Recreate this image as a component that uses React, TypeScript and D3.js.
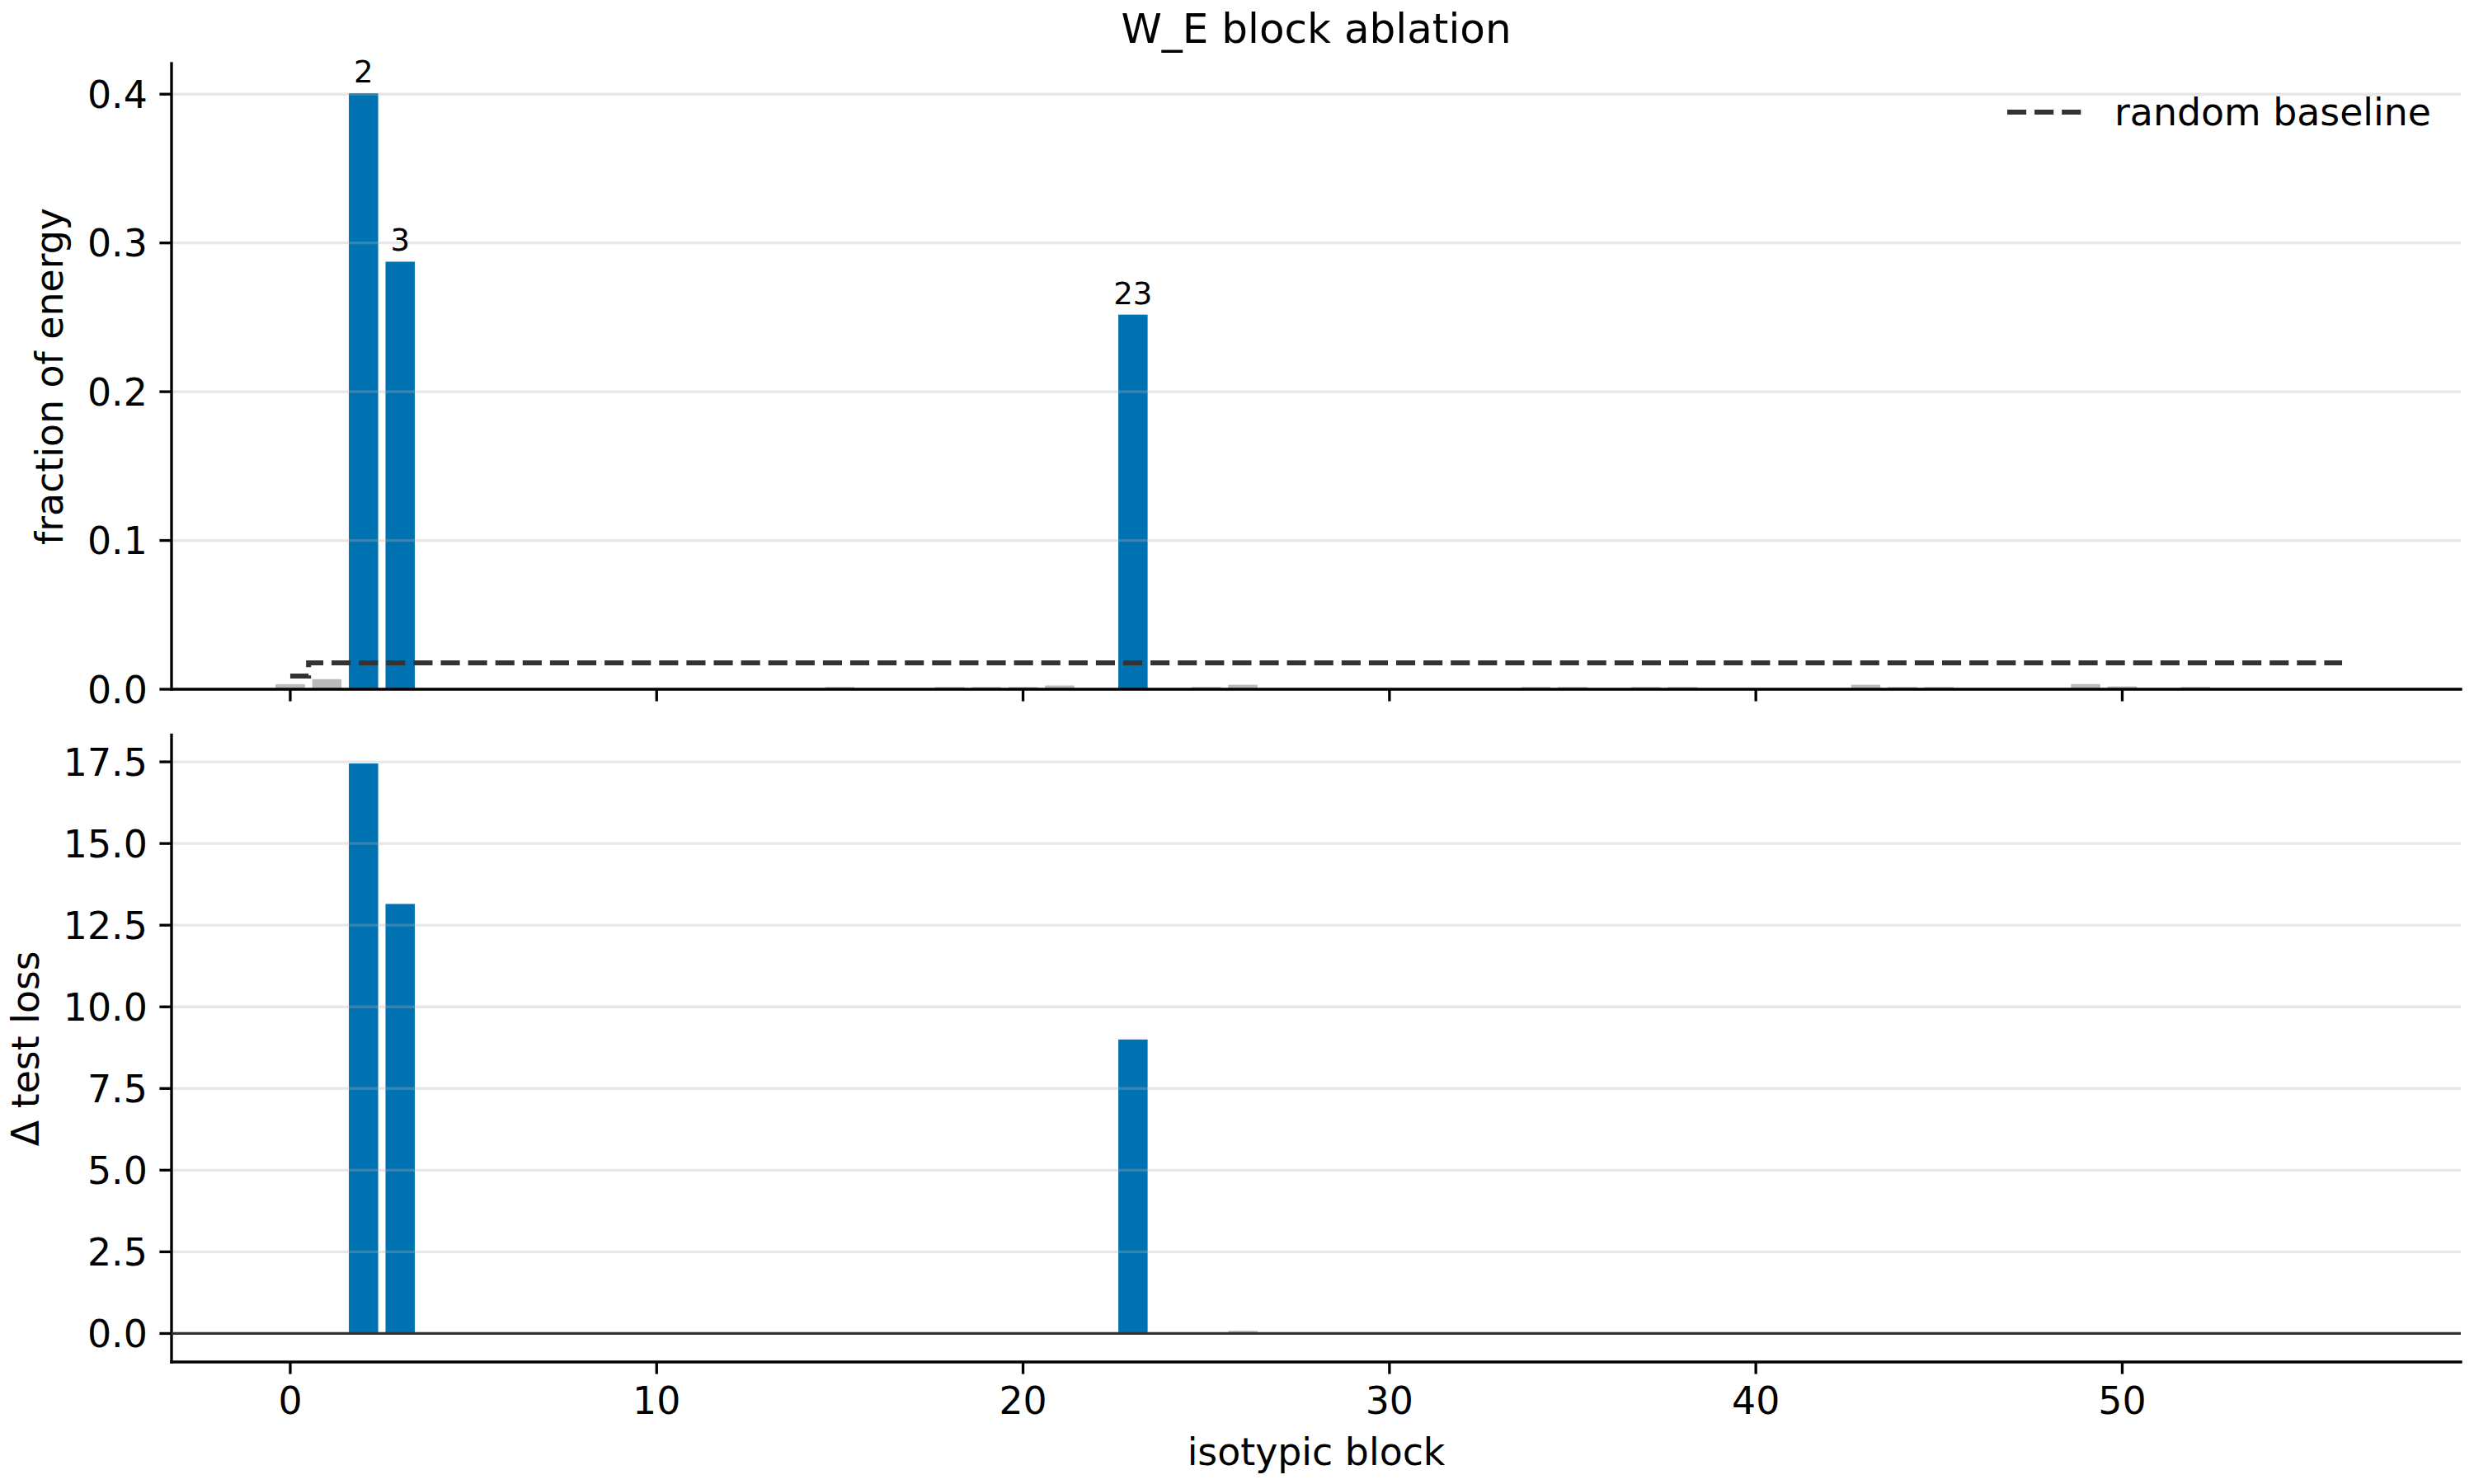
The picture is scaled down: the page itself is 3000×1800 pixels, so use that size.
import { useEffect, useRef } from 'react'
import * as d3 from 'd3'

// isotypic block index 0..56
const blocks = d3.range(57)

// fraction of W_E energy in each block
const energy = [
  0.0034, 0.0068, 0.4006, 0.2874, 0, 0, 0, 0, 0, 0,
  0, 0, 0, 0, 0, 0.0015, 0, 0, 0.0015, 0.0015,
  0.0015, 0.0025, 0, 0.2518, 0, 0.0015, 0.003, 0, 0, 0,
  0, 0, 0, 0, 0.0015, 0.0015, 0, 0.0015, 0.0015, 0,
  0, 0, 0, 0.003, 0.0015, 0.0015, 0, 0, 0, 0.0035,
  0.0019, 0, 0.0015, 0, 0, 0, 0,
]

// random baseline per block (dim / total)
const baseline = [
  0.0088, 0.0177, 0.0177, 0.0177, 0.0177, 0.0177, 0.0177, 0.0177, 0.0177, 0.0177,
  0.0177, 0.0177, 0.0177, 0.0177, 0.0177, 0.0177, 0.0177, 0.0177, 0.0177, 0.0177,
  0.0177, 0.0177, 0.0177, 0.0177, 0.0177, 0.0177, 0.0177, 0.0177, 0.0177, 0.0177,
  0.0177, 0.0177, 0.0177, 0.0177, 0.0177, 0.0177, 0.0177, 0.0177, 0.0177, 0.0177,
  0.0177, 0.0177, 0.0177, 0.0177, 0.0177, 0.0177, 0.0177, 0.0177, 0.0177, 0.0177,
  0.0177, 0.0177, 0.0177, 0.0177, 0.0177, 0.0177, 0.0177,
]

// change in test loss when the block is ablated
const lossDelta = [
  0, 0, 17.45, 13.15, 0, 0, 0, 0, 0, 0,
  0, 0, 0, 0, 0, 0, 0, 0, 0, 0,
  0, 0, 0, 9.0, 0, 0, 0.08, 0, 0, 0,
  0, 0, 0, 0, 0, 0, 0, 0, 0, 0,
  0, 0, 0, 0, 0, 0, 0, 0, 0, 0,
  0, 0, 0, 0, 0, 0, 0,
]

const topBlocks = [2, 3, 23]
const xTicks = [0, 10, 20, 30, 40, 50]
const energyTicks = [0, 0.1, 0.2, 0.3, 0.4]
const lossTicks = [0, 2.5, 5, 7.5, 10, 12.5, 15, 17.5]

const W = 3000
const H = 1800
const LEFT = 208
const RIGHT = 2984
const P1 = { top: 77, bottom: 836 }
const P2 = { top: 891.5, bottom: 1652 }
const FONT = 'DejaVu Sans, Verdana, sans-serif'
const FS = 45.8
const LW = 3.33
const TICK = 14.6
const BLUE = '#0072B2'
const GRAY = '#bbbbbb'

export default function App() {
  const svgRef = useRef<SVGSVGElement>(null)

  useEffect(() => {
    if (!svgRef.current) return
    const svg = d3.select(svgRef.current)
    svg.selectAll('*').remove()

    const x = d3.scaleLinear().domain([-3.24, 59.24]).range([LEFT, RIGHT])
    const bw = x(0.8) - x(0)

    const eMax = d3.max(energy)! * 1.05
    const yE = d3.scaleLinear().domain([0, eMax]).range([P1.bottom, P1.top])
    const lMax = d3.max(lossDelta)!
    const yL = d3.scaleLinear().domain([-0.05 * lMax, lMax * 1.05]).range([P2.bottom, P2.top])

    const colorOf = (i: number) => (topBlocks.includes(i) ? BLUE : GRAY)

    const panel = (
      values: number[],
      y: d3.ScaleLinear<number, number>,
      ticks: number[],
      p: { top: number; bottom: number },
      fmt: (d: number) => string,
    ) => {
      const g = svg.append('g')
      // bars
      g.selectAll('rect.bar')
        .data(blocks)
        .join('rect')
        .attr('class', 'bar')
        .attr('x', i => x(i - 0.4))
        .attr('width', bw)
        .attr('y', i => Math.min(y(values[i]), y(0)))
        .attr('height', i => Math.abs(y(values[i]) - y(0)))
        .attr('fill', i => colorOf(i))

      // grid (matplotlib draws it above patches)
      g.selectAll('line.grid')
        .data(ticks)
        .join('line')
        .attr('x1', LEFT).attr('x2', RIGHT)
        .attr('y1', d => y(d)).attr('y2', d => y(d))
        .attr('stroke', '#b0b0b0').attr('stroke-opacity', 0.3).attr('stroke-width', LW)

      // y axis
      g.append('line')
        .attr('x1', LEFT).attr('x2', LEFT).attr('y1', p.top).attr('y2', p.bottom)
        .attr('stroke', '#000').attr('stroke-width', LW).attr('stroke-linecap', 'square')
      g.selectAll('line.ytick')
        .data(ticks)
        .join('line')
        .attr('x1', LEFT - TICK).attr('x2', LEFT)
        .attr('y1', d => y(d)).attr('y2', d => y(d))
        .attr('stroke', '#000').attr('stroke-width', LW)
      g.selectAll('text.ytick')
        .data(ticks)
        .join('text')
        .attr('x', LEFT - TICK - 14.6)
        .attr('y', d => y(d))
        .attr('dy', '0.364em')
        .attr('text-anchor', 'end')
        .style('font-family', FONT).style('font-size', `${FS}px`)
        .text(d => fmt(d))

      // x axis
      g.append('line')
        .attr('x1', LEFT).attr('x2', RIGHT).attr('y1', p.bottom).attr('y2', p.bottom)
        .attr('stroke', '#000').attr('stroke-width', LW).attr('stroke-linecap', 'square')
      g.selectAll('line.xtick')
        .data(xTicks)
        .join('line')
        .attr('x1', d => x(d)).attr('x2', d => x(d))
        .attr('y1', p.bottom).attr('y2', p.bottom + TICK)
        .attr('stroke', '#000').attr('stroke-width', LW)
      return g
    }

    const g1 = panel(energy, yE, energyTicks, P1, d => d.toFixed(1))
    const g2 = panel(lossDelta, yL, lossTicks, P2, d => d.toFixed(1))

    // random baseline, steps-mid
    const stepLine = d3.line<number>().x(i => x(i)).y(i => yE(baseline[i])).curve(d3.curveStep)
    g1.append('path')
      .datum(blocks)
      .attr('d', stepLine)
      .attr('fill', 'none')
      .attr('stroke', '#333333')
      .attr('stroke-width', 6)
      .attr('stroke-dasharray', '23.1,10')

    // labels above the leading blocks
    g1.selectAll('text.ann')
      .data(topBlocks)
      .join('text')
      .attr('x', i => x(i))
      .attr('y', i => yE(energy[i]) - 13)
      .attr('text-anchor', 'middle')
      .style('font-family', FONT).style('font-size', '37px')
      .text(i => String(i))

    // zero line in lower panel
    g2.append('line')
      .attr('x1', LEFT).attr('x2', RIGHT).attr('y1', yL(0)).attr('y2', yL(0))
      .attr('stroke', '#333333').attr('stroke-width', LW)

    g2.selectAll('text.xlab')
      .data(xTicks)
      .join('text')
      .attr('x', d => x(d))
      .attr('y', 1715)
      .attr('text-anchor', 'middle')
      .style('font-family', FONT).style('font-size', `${FS}px`)
      .text(d => String(d))

    // legend
    svg.append('line')
      .attr('x1', 2434).attr('x2', 2525).attr('y1', 136).attr('y2', 136)
      .attr('stroke', '#333333').attr('stroke-width', 6).attr('stroke-dasharray', '23.1,10')
    svg.append('text')
      .attr('x', 2564).attr('y', 151.7)
      .style('font-family', FONT).style('font-size', `${FS}px`)
      .text('random baseline')

    // titles and axis labels
    const cx = (LEFT + RIGHT) / 2
    svg.append('text')
      .attr('x', cx).attr('y', 52)
      .attr('text-anchor', 'middle')
      .style('font-family', FONT).style('font-size', '50px')
      .text('W_E block ablation')
    svg.append('text')
      .attr('x', cx).attr('y', 1777)
      .attr('text-anchor', 'middle')
      .style('font-family', FONT).style('font-size', `${FS}px`)
      .text('isotypic block')
    svg.append('text')
      .attr('transform', `translate(76,${(P1.top + P1.bottom) / 2}) rotate(-90)`)
      .attr('text-anchor', 'middle')
      .style('font-family', FONT).style('font-size', `${FS}px`)
      .text('fraction of energy')
    svg.append('text')
      .attr('transform', `translate(47,${(P2.top + P2.bottom) / 2}) rotate(-90)`)
      .attr('text-anchor', 'middle')
      .style('font-family', FONT).style('font-size', `${FS}px`)
      .text('Δ test loss')
  }, [])

  return (
    <svg
      ref={svgRef}
      width={W}
      height={H}
      style={{ position: 'absolute', left: 0, top: 0, background: '#fff' }}
    />
  )
}
